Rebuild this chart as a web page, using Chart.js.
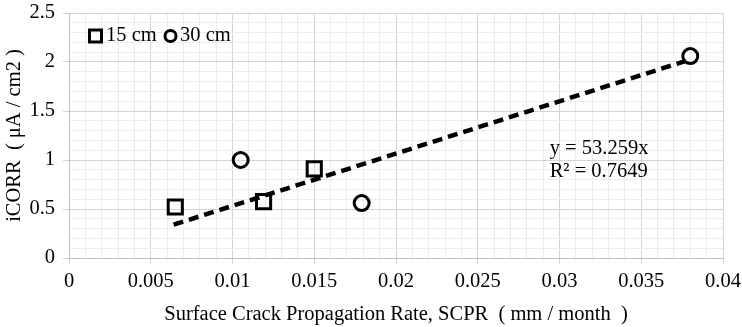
<!DOCTYPE html>
<html><head><meta charset="utf-8">
<script src="https://cdn.jsdelivr.net/npm/chart.js@4"></script>
<style>html,body{margin:0;padding:0;background:#fff}#wrap{width:742px;height:327px}</style>
</head><body><div id="wrap"><canvas id="c" width="742" height="327"></canvas></div>
<script>
const series15X = [0.0065, 0.0119, 0.0150];
const series15Y = [0.52, 0.575, 0.91];
const series30X = [0.0105, 0.0179, 0.0380];
const series30Y = [1.00, 0.56, 2.06];
const trendX = [0.0064, 0.0377];
const trendY = [0.34, 2.01];
const seriesNames = ['15 cm', '30 cm'];
const equationLines = ['y = 53.259x', 'R\u00b2 = 0.7649'];
const xTitle = 'Surface Crack Propagation Rate, SCPR  ( mm / month  )';
const yTitle = 'iCORR  ( \u03bcA / cm2 )';

const FONT = "'Liberation Serif', 'Times New Roman', serif";
const FS = 20.5;
const toPts = (xs, ys) => xs.map((x, i) => ({x, y: ys[i]}));

const overlay = {
  id: 'overlay',
  afterDraw(chart) {
    const ctx = chart.ctx, xs = chart.scales.x, ys = chart.scales.y;
    ctx.save();
    ctx.fillStyle = '#000';
    ctx.font = FS + 'px ' + FONT;
    ctx.textBaseline = 'middle';
    // equation
    const ex = xs.getPixelForValue(0.0294), ey = ys.getPixelForValue(1.0);
    ctx.textAlign = 'left';
    ctx.fillText(equationLines[0], ex, ey - 11);
    ctx.fillText(equationLines[1], ex, ey + 12);
    // legend
    const ly = 36;
    ctx.strokeStyle = '#000'; ctx.lineWidth = 3;
    ctx.strokeRect(89.5, ly - 6, 12, 12);
    ctx.fillText(seriesNames[0], 106, ly);
    ctx.beginPath(); ctx.arc(170.5, ly, 5.5, 0, Math.PI * 2); ctx.stroke();
    ctx.fillText(seriesNames[1], 180, ly);
    ctx.restore();
  }
};

const majorGrid = '#d4d4d4', minorGrid = '#ececec';
new Chart(document.getElementById('c'), {
  type: 'scatter',
  data: {
    datasets: [
      {label: seriesNames[0], data: toPts(series15X, series15Y), pointStyle: 'rect', pointRadius: 10, pointHoverRadius: 10,
       borderColor: '#000', backgroundColor: 'rgba(0,0,0,0)', borderWidth: 3, order: 1},
      {label: seriesNames[1], data: toPts(series30X, series30Y), pointStyle: 'circle', pointRadius: 7.5, pointHoverRadius: 7.5,
       borderColor: '#000', backgroundColor: 'rgba(0,0,0,0)', borderWidth: 3, order: 1},
      {label: 'trend', type: 'line', data: toPts(trendX, trendY), showLine: true, pointRadius: 0,
       borderColor: '#000', borderWidth: 4.5, borderDash: [10, 6], fill: false, order: 0}
    ]
  },
  options: {
    responsive: false, animation: false, devicePixelRatio: 1,
    layout: {padding: {top: 8, right: 19, left: 0, bottom: 0}},
    plugins: {legend: {display: false}, tooltip: {enabled: false}},
    scales: {
      x: {
        type: 'linear', min: 0, max: 0.04,
        afterFit(s) { s.height = 69; s.paddingLeft = 0; s.paddingRight = 0; },
        ticks: {stepSize: 0.001, autoSkip: false, maxRotation: 0, color: '#000', padding: 5,
          font: {family: FONT, size: FS},
          callback: (v, i) => i % 5 === 0 ? String(Number(v.toFixed(3))) : ''},
        grid: {color: c => c.index % 5 === 0 ? majorGrid : minorGrid,
               tickColor: c => c.index % 5 === 0 ? majorGrid : 'rgba(0,0,0,0)', tickLength: 6, drawTicks: true},
        border: {color: '#bfbfbf'},
        title: {display: true, text: xTitle, color: '#000', font: {family: FONT, size: FS}, padding: {top: 2, bottom: 0}}
      },
      y: {
        type: 'linear', min: 0, max: 2.5,
        afterFit(s) { s.width = 69; s.paddingTop = 0; s.paddingBottom = 0; },
        ticks: {stepSize: 0.1, autoSkip: false, color: '#000', padding: 8,
          font: {family: FONT, size: FS, lineHeight: 0.5},
          callback: (v, i) => i % 5 === 0 ? String(Number(v.toFixed(1))) : ''},
        grid: {color: c => c.index % 5 === 0 ? majorGrid : minorGrid,
               tickColor: c => c.index % 5 === 0 ? majorGrid : 'rgba(0,0,0,0)', tickLength: 6},
        border: {color: '#bfbfbf'},
        title: {display: true, text: yTitle, color: '#000', font: {family: FONT, size: FS}, padding: {top: 2, bottom: 0}}
      }
    }
  },
  plugins: [overlay]
});
</script></body></html>
